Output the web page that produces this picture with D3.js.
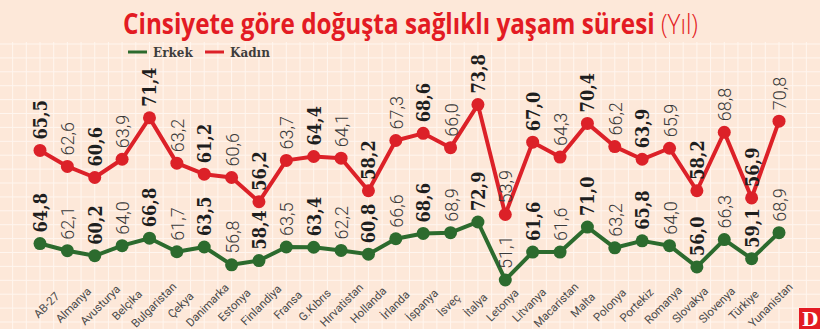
<!DOCTYPE html>
<html>
<head>
<meta charset="utf-8">
<script src="https://cdn.jsdelivr.net/npm/d3@7/dist/d3.min.js"></script>
<style>
  body { margin: 0; background: #fde8d9; }
  svg { display: block; }
</style>
</head>
<body>
<svg id="chart" width="820" height="329"></svg>
<script>
// values
const countries = ['AB-27', 'Almanya', 'Avusturya', 'Belçika', 'Bulgaristan', 'Çekya', 'Danimarka',
  'Estonya', 'Finlandiya', 'Fransa', 'G.Kıbrıs', 'Hırvatistan', 'Hollanda', 'İrlanda', 'İspanya',
  'İsveç', 'İtalya', 'Letonya', 'Litvanya', 'Macaristan', 'Malta', 'Polonya', 'Portekiz',
  'Romanya', 'Slovakya', 'Slovenya', 'Türkiye', 'Yunanistan'];
const kadin = [65.5, 62.6, 60.6, 63.9, 71.4, 63.2, 61.2, 60.6, 56.2, 63.7, 64.4, 64.1, 58.2, 67.3,
  68.6, 66.0, 73.8, 53.9, 67.0, 64.3, 70.4, 66.2, 63.9, 65.9, 58.2, 68.8, 56.9, 70.8];
const erkek = [64.8, 62.1, 60.2, 64.0, 66.8, 61.7, 63.5, 56.8, 58.4, 63.5, 63.4, 62.2, 60.8, 66.6,
  68.6, 68.9, 72.9, 51.1, 61.6, 61.6, 71.0, 63.2, 65.8, 64.0, 56.0, 66.3, 59.1, 68.9];
const seriesNames = ['Erkek', 'Kadın'];

const RED = '#dc2128';
const GREEN = '#2c6b2e';

const svg = d3.select('#chart');
const W = 820, H = 329;

const tr = d3.formatLocale({ decimal: ',', thousands: '.', grouping: [3], currency: ['', '₺'] });
const fmt = tr.format('.1f');

// background + grid
svg.append('rect').attr('width', W).attr('height', H).attr('fill', '#fde8d9');

const x = d3.scalePoint().domain(countries).range([40, 779]);
const xLab = d3.scalePoint().domain(countries).range([46, 770]);
const yK = d3.scaleLinear().domain([50, 75]).range([236, 98]);
const yE = d3.scaleLinear().domain([50, 75]).range([282.9, 216.4]);

const step = x.step() / 2;
const grid = svg.append('g').attr('stroke', '#fff6ef').attr('stroke-width', 1);
for (let gx = 40 - step * 3; gx < W; gx += step) {
  grid.append('line').attr('x1', gx).attr('x2', gx).attr('y1', 42).attr('y2', H);
}
for (let gy = 44; gy < H; gy += 13.9) {
  grid.append('line').attr('x1', 0).attr('x2', W).attr('y1', gy).attr('y2', gy);
}

// title: natural-size text squeezed horizontally to the reference width
function squeezed(str, x0, width, weight) {
  const g = svg.append('g');
  const t = g.append('text')
    .style('font-family', '"Open Sans", sans-serif')
    .style('font-size', '28px').style('font-weight', weight)
    .attr('fill', '#e31b23')
    .text(str);
  const w = t.node().getComputedTextLength();
  g.attr('transform', `translate(${x0},34) scale(${width / w},1)`);
}
squeezed('Cinsiyete göre doğuşta sağlıklı yaşam süresi', 123, 532, 700);
squeezed('(Yıl)', 661, 37, 300);

// legend
const legend = svg.append('g').attr('transform', 'translate(128,52)');
const legX = [0, 77];
seriesNames.forEach((name, i) => {
  const g = legend.append('g').attr('transform', `translate(${legX[i]},0)`);
  g.append('line').attr('x1', 0).attr('x2', 19).attr('stroke', i === 0 ? GREEN : RED).attr('stroke-width', 3);
  g.append('text').attr('x', 25).attr('y', 4.5)
    .style('font-family', '"DejaVu Serif", serif').style('font-weight', 700).style('font-size', '12px')
    .attr('fill', '#3d3d3d').text(name);
});

// x axis labels
const axis = svg.append('g')
  .attr('transform', 'translate(0,305)')
  .call(d3.axisBottom(xLab).tickSize(0));
axis.select('.domain').remove();
axis.selectAll('text')
  .attr('transform', 'rotate(-45)')
  .attr('x', 0).attr('y', 0).attr('dy', '0.35em')
  .attr('text-anchor', 'middle')
  .style('font-family', 'Roboto, sans-serif')
  .style('font-weight', 400)
  .style('font-size', '11.5px')
  .attr('fill', '#4a4a4a');

// series
function drawSeries(values, y, color) {
  const g = svg.append('g');
  const line = d3.line().x((d, i) => x(countries[i])).y(d => y(d));
  g.append('path').datum(values)
    .attr('d', line)
    .attr('fill', 'none').attr('stroke', color)
    .attr('stroke-width', 4).attr('stroke-linejoin', 'round');
  g.selectAll('circle').data(values).join('circle')
    .attr('cx', (d, i) => x(countries[i]))
    .attr('cy', d => y(d))
    .attr('r', 6.5)
    .attr('fill', color);
  g.selectAll('text').data(values).join('text')
    .attr('transform', (d, i) => `translate(${x(countries[i]) + 7},${y(d) - 11}) rotate(-90)`)
    .style('font-family', (d, i) => i % 2 === 0 ? '"DejaVu Serif Condensed", "DejaVu Serif", serif' : 'Roboto, sans-serif')
    .style('font-weight', (d, i) => i % 2 === 0 ? 700 : 300)
    .style('font-size', '18px')
    .attr('fill', (d, i) => i % 2 === 0 ? '#1e1e1e' : '#3a3a3a')
    .text(d => fmt(d));
}
drawSeries(kadin, yK, RED);
drawSeries(erkek, yE, GREEN);

// logo
svg.append('rect').attr('x', 799).attr('y', 308).attr('width', 21).attr('height', 21).attr('fill', '#e31b23');
svg.append('text').attr('x', 810).attr('y', 326).attr('text-anchor', 'middle')
  .style('font-family', '"DejaVu Serif", serif').style('font-weight', 700).style('font-size', '19px')
  .attr('fill', '#fff').text('D');
</script>
</body>
</html>
